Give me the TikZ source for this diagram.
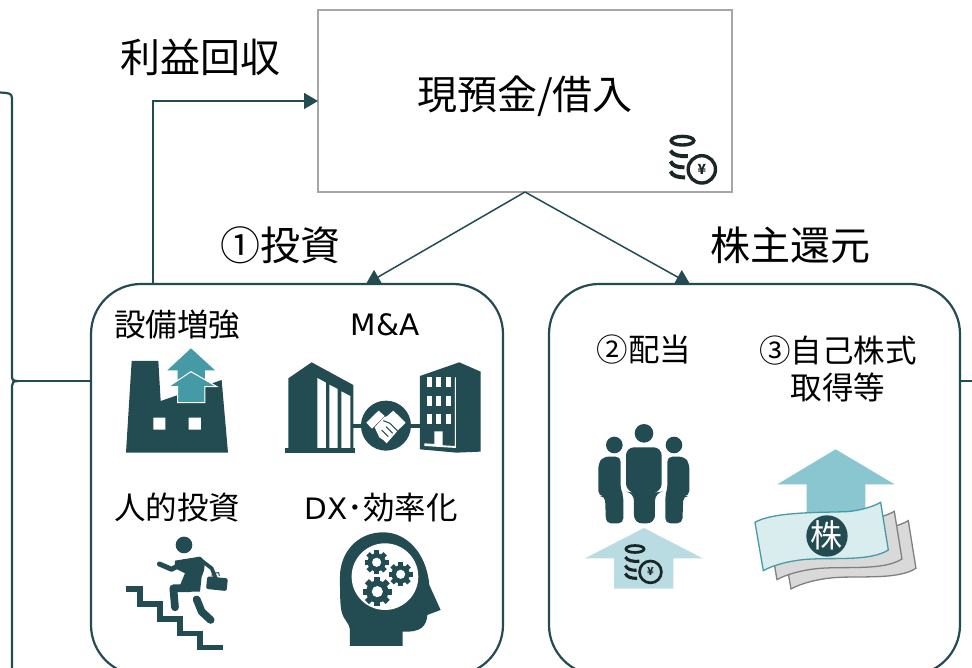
\documentclass[tikz,border=0pt]{standalone}
\usepackage{fontspec}
\setmainfont{Noto Sans CJK JP}
\newfontfamily\latinfont{DejaVu Sans}
\usetikzlibrary{arrows.meta,calc}
\definecolor{deepteal}{HTML}{234C52}
\definecolor{midteal}{HTML}{459BA5}
\definecolor{softteal}{HTML}{8AC6CF}
\definecolor{paleteal}{HTML}{B9DCE2}
\definecolor{mistteal}{HTML}{D9EDEF}
\definecolor{coindark}{HTML}{1A2628}
\tikzset{
  panel/.style={draw=deepteal,line width=2.2pt,rounded corners=50pt,minimum width=412pt,minimum height=391pt,inner sep=0pt,outer sep=0pt},
  cashbox/.style={draw=black!35,line width=2pt,fill=white,minimum width=414pt,minimum height=182pt,inner sep=0pt,outer sep=0pt},
  link/.style={draw=deepteal,line width=1.5pt},
  linkarrow/.style={link,-{Triangle[length=14pt,width=16pt]}},
  bigtext/.style={font=\fontsize{40}{48}\selectfont,inner sep=0pt,text=black},
  smalltext/.style={font=\fontsize{31.5}{38}\selectfont,inner sep=0pt,text=black},
  zoomone/.style={shift={(90,290)},x=0.3333pt,y=-0.3333pt},
  zoomtwo/.style={shift={(560,400)},x=0.3333pt,y=-0.3333pt},
}
\newcommand{\gearicon}[3]{%
  \foreach \gearang in {0,45,...,315}{%
    \fill[deepteal,shift={(#1,#2)},rotate=\gearang] (-0.2*#3,-#3) rectangle (0.2*#3,0);}
  \fill[deepteal] (#1,#2) circle[radius=0.76*#3];
  \fill[white] (#1,#2) circle[radius=0.38*#3];}
% x, y of top disc centre; unit (pt per zoom px); ring width; yen font size; node name
\newcommand{\coinicon}[6]{%
  \begin{scope}[shift={(#1,#2)},x=#3pt,y=-#3pt,draw=coindark]
    \draw[line width=#4pt] (0,0) ellipse[x radius=34,y radius=13];
    \draw[line width=1.15*#4pt] (-36,30) .. controls (-30,44) and (-5,48) .. (16,46);
    \draw[line width=1.15*#4pt] (-36,62) .. controls (-30,76) and (-15,80) .. (6,80);
    \draw[line width=1.15*#4pt] (-36,92) .. controls (-30,106) and (-15,110) .. (8,110);
    \draw[line width=#4pt] (58,86) circle[radius=41];
    \node[inner sep=0pt,text=coindark,font=\fontsize{#5}{#5}\selectfont\bfseries] (#6) at (58,85) {¥};
  \end{scope}}
\begin{document}
\begin{tikzpicture}[x=1pt,y=-1pt]
\useasboundingbox (0,0) rectangle (972,668);
\clip (0,0) rectangle (972,668);
\fill[white] (0,0) rectangle (972,668);

% panels and box
\node[panel] (invest) at (297,479.5) {};
\node[panel,minimum width=411pt] (payout) at (754.5,479.5) {};
\node[cashbox] (cash) at (525,101) {};
\node[bigtext] (cashlabel) at (525,96) {現預金/借入};

% connectors
\coordinate (investin) at (366,284);
\coordinate (payoutin) at (690,284);
\coordinate (investout) at (153,284);
\coordinate (busl) at (18,381);
\coordinate (busr) at (972,381);
\draw[linkarrow] (cash.south) -- (investin);
\draw[linkarrow] (cash.south) -- (payoutin);
\draw[linkarrow] (investout) |- (cash.west);
\draw[link,line width=2pt] (busl) -- (invest.west |- busl);
\draw[link,line width=2pt] (payout.east |- busr) -- (busr);
\draw[link,line width=2.2pt] (0,92.5) .. controls (8,93) and (12,93) .. (12,98) -- (12,376) .. controls (12,380) and (13,381) .. (busl) .. controls (13,381) and (12,383) .. (12,386) -- (12,668);

% labels
\node[bigtext] (recover) at (200,57) {利益回収};
\node[bigtext] (invtitle) at (280,245) {①投資};
\node[bigtext] (rettitle) at (790,245) {株主還元};
\node[smalltext] (facility) at (177,325) {設備増強};
\node[smalltext,font=\latinfont\fontsize{29.5}{34}\selectfont] (mna) at (385,325) {M\&A};
\node[smalltext] (people) at (177,508) {人的投資};
\node[smalltext] (dx) at (381,508) {{\latinfont\fontsize{29.5}{34}\selectfont DX}･効率化};
\node[smalltext] (dividend) at (644,350) {②配当};
\node[smalltext,align=center] (buyback) at (838,368.5) {③自己株式\\[-1pt]取得等};

\begin{scope}[zoomone]
% factory
  \fill[deepteal] (108,488) -- (125,213) -- (205,213) -- (212,333) -- (395,270) -- (414,488) -- cycle;
  \fill[white] (190,383) rectangle (226,419) (296,383) rectangle (333,419);
  \fill[midteal] (303,175) -- (375,241) -- (345,241) -- (345,290) -- (263,290) -- (263,241) -- (232,241) -- cycle;
  \filldraw[midteal,draw=white,line width=1pt] (303,245) -- (381,290) -- (345,290) -- (345,338) -- (263,338) -- (263,290) -- (235,290) -- cycle;
% left building
  \fill[deepteal] (595,265) -- (665,217) -- (790,285) -- (790,478) -- (595,478) -- cycle;
  \fill[deepteal] (585,474) rectangle (795,488);
  \fill[white] (682,264) -- (708,278) -- (708,474) -- (682,474) -- cycle;
  \fill[white] (718,284) -- (743,297) -- (743,474) -- (718,474) -- cycle;
  \fill[white] (754,304) -- (781,318) -- (781,474) -- (754,474) -- cycle;
% connection
  \fill[deepteal] (790,402) rectangle (990,413);
  \fill[deepteal] (888,407) circle[radius=75];
  \fill[white] (829,398) -- (866,362) -- (884,378) -- (846,416) -- cycle;
  \fill[white] (910,362) -- (947,398) -- (931,414) -- (892,378) -- cycle;
  \fill[white] (854,412) -- (882,382) -- (908,372) -- (932,412) -- (890,460) -- (880,450) -- (868,442) -- cycle;
  \draw[deepteal,line width=1pt] (880,392) -- (900,400) -- (925,425) (875,420) -- (895,440) (888,410) -- (908,430);
% right building
  \fill[deepteal] (990,258) -- (1108,217) -- (1172,245) -- (1172,485) -- (1100,488) -- (990,478) -- cycle;
  \foreach \wx in {1011,1038,1068}{\foreach \wy in {262,317,372}{\fill[white] (\wx,\wy) rectangle ++(15,30);}}
  \fill[white] (1003,460) -- (1033,462) -- (1033,424) -- (1058,424) -- (1058,466) -- (1095,468) -- (1095,262) -- (1098,262) -- (1098,474) -- (1003,468) -- cycle;
% stairs man
  \draw[deepteal,line width=5.3pt,line join=miter] (108,897) -- (150,897) -- (150,942) -- (210,942) -- (210,987) -- (270,987) -- (270,1030) -- (330,1030) -- (330,1072) -- (398,1072);
  \fill[deepteal] (282,765) circle[radius=25];
  \fill[deepteal] (255,812) -- (330,800) .. controls (350,810) and (345,840) .. (335,860) -- (330,905) -- (262,905) -- (285,850) -- (255,835) -- cycle;
  \draw[deepteal,line width=5pt,line cap=round,line join=round] (208,822) -- (245,838) -- (285,815);
  \draw[deepteal,line width=3.7pt,line cap=round,line join=round] (335,812) -- (365,835) -- (378,866);
  \draw[deepteal,line width=7.7pt,line cap=round,line join=round] (300,895) -- (250,895) -- (255,952);
  \draw[deepteal,line width=7.7pt,line cap=round,line join=round] (320,928) -- (335,965) -- (362,990);
  \draw[white,line width=1.3pt] (300,918) -- (345,910);
  \fill[deepteal,rounded corners=2pt,rotate around={-6:(380,880)}] (350,862) rectangle (412,900);
  \draw[deepteal,line width=1pt] (366,860) -- (367,850) -- (386,848) -- (388,858);
% head
  \fill[deepteal] (780,1068) -- (938,1068) -- (938,1025) .. controls (990,1028) and (1010,1010) .. (1012,975) -- (1052,960) -- (1018,885) .. controls (1010,790) and (950,727) .. (880,727) .. controls (800,727) and (750,790) .. (750,860) .. controls (750,900) and (750,950) .. (755,965) .. controls (760,990) and (780,1000) .. (780,1020) -- cycle;
  \fill[white] (885,860) circle[radius=100];
  \gearicon{860}{817}{36}
  \gearicon{932}{853}{36}
  \gearicon{862}{905}{44}
\end{scope}

\begin{scope}[zoomtwo]
% people
  \fill[deepteal] (252,100) circle[radius=28] (163,135) circle[radius=25] (342,135) circle[radius=25];
  \fill[deepteal,rounded corners=8pt] (198,275) -- (198,142) -- (305,142) -- (305,275) -- (285,278) -- (285,370) -- (222,370) -- (222,278) -- cycle;
  \fill[deepteal,rounded corners=5pt] (182,170) -- (130,170) -- (115,190) -- (115,288) -- (135,288) -- (138,370) -- (190,370) -- (190,285) -- (182,270) -- cycle;
  \fill[deepteal,rounded corners=5pt] (322,170) -- (373,170) -- (388,190) -- (388,288) -- (370,288) -- (367,370) -- (316,370) -- (316,285) -- (322,270) -- cycle;
% arrows
  \fill[paleteal] (252,384) -- (428,475) -- (340,475) -- (340,566) -- (162,566) -- (162,475) -- (75,475) -- cycle;
  \fill[softteal] (827,148) -- (1004,253) -- (916,253) -- (916,345) -- (740,345) -- (740,253) -- (652,253) -- cycle;
% notes
  \foreach \sdx/\sdy in {83/55,41/27}{
    \filldraw[fill=black!15,draw=black!50,line width=1.3pt,shift={(\sdx,\sdy)}] (585,367) .. controls (640,335) and (780,338) .. (860,335) .. controls (900,332) and (940,320) .. (962,307) -- (985,450) .. controls (930,485) and (820,472) .. (740,478) .. controls (690,482) and (640,495) .. (610,512) -- cycle;}
  \filldraw[fill=mistteal,draw=midteal,line width=1.3pt] (585,367) .. controls (640,335) and (780,338) .. (860,335) .. controls (900,332) and (940,320) .. (962,307) -- (985,450) .. controls (930,485) and (820,472) .. (740,478) .. controls (690,482) and (640,495) .. (610,512) -- cycle;
  \fill[deepteal] (801,408) circle[radius=62];
  \node[inner sep=0pt,text=white,font=\fontsize{32}{32}\selectfont] (kabu) at (801,406) {株};
\end{scope}

\coinicon{682.5}{140.7}{0.3333}{3.4}{14}{coinyenA}
\coinicon{635}{549}{0.2667}{2.7}{11}{coinyenB}
\end{tikzpicture}
\end{document}
